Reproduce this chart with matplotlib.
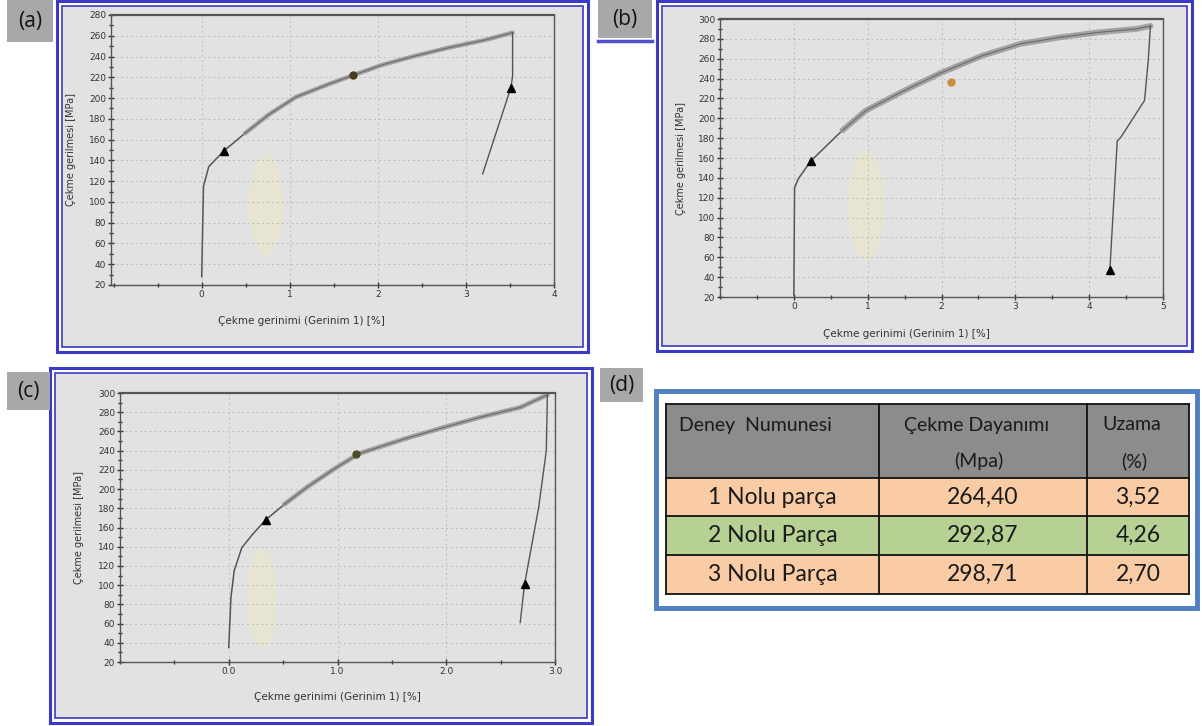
import matplotlib
matplotlib.use("Agg")
import matplotlib.pyplot as plt
from matplotlib.patches import Rectangle, Ellipse
from matplotlib.ticker import MultipleLocator

W, H = 1202, 726

# --- (a) 1 Nolu parca: stress-strain readings ---
a_load_x = [0.0, 0.02, 0.08, 0.25, 0.49, 0.76, 1.07, 1.46, 1.72, 2.05, 2.44, 2.83, 3.22, 3.53]
a_load_y = [28, 115, 134, 149, 166, 184, 201, 214, 222, 232, 241, 249, 256, 263]
a_unload_x = [3.53, 3.53, 3.51, 3.19]
a_unload_y = [263, 221, 210, 127]
a_tri_x = [0.25, 3.51]
a_tri_y = [149, 210]
a_dot = (1.72, 222)

# --- (b) 2 Nolu parca ---
b_load_x = [0.0, 0.01, 0.06, 0.23, 0.66, 0.98, 1.5, 2.0, 2.55, 3.07, 3.6, 4.12, 4.64, 4.83]
b_load_y = [22, 130, 139, 157, 188, 208, 228, 246, 263, 275, 281.5, 286.5, 290, 293]
b_unload_x = [4.83, 4.80, 4.75, 4.43, 4.38, 4.28]
b_unload_y = [293, 258, 218, 181, 177, 47]
b_tri_x = [0.23, 4.28]
b_tri_y = [157, 47]
b_dot = (2.13, 237)

# --- (c) 3 Nolu parca ---
c_load_x = [0.0, 0.02, 0.05, 0.12, 0.22, 0.34, 0.51, 0.72, 0.97, 1.2, 1.61, 1.97, 2.32, 2.68, 2.89, 2.93]
c_load_y = [35, 87, 115, 139, 153, 168, 184, 202, 221, 237, 252, 264, 275, 285, 296, 298]
c_unload_x = [2.93, 2.92, 2.85, 2.72, 2.68]
c_unload_y = [298, 240, 181, 101, 61]
c_tri_x = [0.34, 2.72]
c_tri_y = [168, 101]
c_dot = (1.17, 237)

# --- (d) table ---
col_headers = [["Deney  Numunesi"], ["Çekme Dayanımı", "(Mpa)"], ["Uzama", "(%)"]]
samples = ["1 Nolu parça", "2 Nolu Parça", "3 Nolu Parça"]
strength = [264.40, 292.87, 298.71]
elongation = [3.52, 4.26, 2.70]
row_colors = ["#f9cca6", "#b6d193", "#f9cca6"]

XLABEL = "Çekme gerinimi (Gerinim 1) [%]"
YLABEL = "Çekme gerilmesi [MPa]"
BLUE = "#3a3ac4"


def rect(l, t, r, b):
    return [l / W, 1 - b / H, (r - l) / W, (b - t) / H]


fig = plt.figure(figsize=(W / 100, H / 100), dpi=100)
bg = fig.add_axes([0, 0, 1, 1])
bg.set_xlim(0, W)
bg.set_ylim(H, 0)
bg.axis("off")


def panel_frame(x0, y0, x1, y1):
    bg.add_patch(Rectangle((x0, y0), x1 - x0, y1 - y0, fc="white", ec=BLUE, lw=2.2))
    bg.add_patch(Rectangle((x0 + 5, y0 + 5), x1 - x0 - 10, y1 - y0 - 10,
                           fc="#e2e2e2", ec=BLUE, lw=1.2))


def tag(x0, y0, x1, y1, text):
    bg.add_patch(Rectangle((x0, y0), x1 - x0, y1 - y0, fc="#a8a8a8", ec="none"))
    bg.text((x0 + x1) / 2, (y0 + y1) / 2, text, ha="center", va="center",
            fontsize=15, family="Open Sans", color="#111")


panel_frame(57, 1, 588, 352)
panel_frame(657, 1, 1192, 351)
panel_frame(50, 368, 592, 723)
tag(7, 0, 53, 42, "(a)")
tag(598, 0, 652, 38, "(b)")
bg.plot([598, 652], [41, 41], color="#5050c8", lw=2.5)
tag(7, 372, 50, 410, "(c)")
tag(600, 368, 643, 402, "(d)")

# faint stains on the scanned sheets
for cx, cy, w, h in [(266, 205, 34, 100), (866, 205, 36, 110), (262, 598, 30, 100)]:
    bg.add_patch(Ellipse((cx, cy), w, h, fc="#e9e6cf", ec="none", alpha=0.8))


def stress_plot(box, xlim, ylim, xticks, xfmt, load_x, load_y, un_x, un_y,
                tri_x, tri_y, dot, dot_color, band_from, band_lw, xl_x, xl_y, yl_x):
    ax = fig.add_axes(rect(*box))
    ax.set_facecolor("none")
    ax.set_xlim(*xlim)
    ax.set_ylim(*ylim)
    ax.set_xticks(xticks)
    ax.set_xticklabels([xfmt.format(v) for v in xticks])
    ax.xaxis.set_minor_locator(MultipleLocator(0.5))
    ax.set_yticks(range(20, int(ylim[1]) + 1, 20))
    ax.yaxis.set_minor_locator(MultipleLocator(10))
    ax.tick_params(which="major", labelsize=6.5, direction="inout", length=5,
                   width=1, colors="#333", pad=1)
    ax.tick_params(which="minor", direction="inout", length=3, width=1, colors="#333")
    for s in ax.spines.values():
        s.set_color("#555")
        s.set_linewidth(1.0)
    ax.spines["top"].set_linewidth(1.6)
    ax.grid(True, which="major", color="#bdbdbd", ls=(0, (2, 3)), lw=0.7)
    ax.set_axisbelow(True)

    ax.plot(load_x, load_y, color="#555", lw=1.1)
    ax.plot(load_x[band_from:], load_y[band_from:], color="#9c9c9c", lw=band_lw,
            solid_capstyle="round", alpha=0.9)
    ax.plot(load_x[band_from:], load_y[band_from:], color="#6a6a6a", lw=0.7)
    ax.plot(un_x, un_y, color="#555", lw=1.0)
    ax.plot(tri_x, tri_y, ls="none", marker="^", color="black", ms=5.5)
    ax.plot([dot[0]], [dot[1]], ls="none", marker="o", color=dot_color, ms=5)

    ax.set_xlabel(XLABEL, fontsize=7.5, color="#333")
    ax.set_ylabel(YLABEL, fontsize=7, color="#333")
    ax.xaxis.set_label_coords(xl_x, xl_y)
    ax.yaxis.set_label_coords(yl_x, 0.5)
    return ax


stress_plot((111, 15, 554, 285), (-1.03, 4), (20, 280), [0, 1, 2, 3, 4], "{:d}",
            a_load_x, a_load_y, a_unload_x, a_unload_y, a_tri_x, a_tri_y,
            a_dot, "#4a3a1c", 4, 3.2, 0.43, -0.115, -0.079)
stress_plot((720, 19, 1163, 297), (-1, 5), (22, 300), [0, 1, 2, 3, 4, 5], "{:d}",
            b_load_x, b_load_y, b_unload_x, b_unload_y, b_tri_x, b_tri_y,
            b_dot, "#c8903a", 4, 4.2, 0.42, -0.115, -0.077)
stress_plot((120, 393, 555, 662), (-1, 3), (20, 300), [0.0, 1.0, 2.0, 3.0], "{:.1f}",
            c_load_x, c_load_y, c_unload_x, c_unload_y, c_tri_x, c_tri_y,
            c_dot, "#4e4e22", 6, 3.4, 0.5, -0.11, -0.083)

# --- (d) table drawn on background axes ---
bg.add_patch(Rectangle((656, 391), 541, 217, fc="white", ec="#4f7fc0", lw=3.5))
col_x = [666, 879, 1087, 1189]
row_y = [404, 478, 516, 555, 594]
bg.add_patch(Rectangle((col_x[0], row_y[0]), col_x[-1] - col_x[0], row_y[1] - row_y[0],
                       fc="#8c8c8c", ec="none"))
for i, c in enumerate(row_colors):
    bg.add_patch(Rectangle((col_x[0], row_y[i + 1]), col_x[-1] - col_x[0],
                           row_y[i + 2] - row_y[i + 1], fc=c, ec="none"))
for y in row_y:
    bg.plot([col_x[0], col_x[-1]], [y, y], color="#111", lw=1.3)
for x in col_x:
    bg.plot([x, x], [row_y[0], row_y[-1]], color="#111", lw=1.3)

tfont = "Lato"
bg.text(679, 425, col_headers[0][0], fontsize=14, family=tfont, va="center", color="#1a1a1a")
for j in (1, 2):
    cx = (col_x[j] + col_x[j + 1]) / 2
    bg.text(cx - 6, 425, col_headers[j][0], fontsize=14, family=tfont, ha="center",
            va="center", color="#1a1a1a")
    bg.text(cx - 4, 461, col_headers[j][1], fontsize=14,
            family=tfont, ha="center", va="center", color="#1a1a1a")
for i in range(3):
    cy = (row_y[i + 1] + row_y[i + 2]) / 2
    cells = [samples[i], f"{strength[i]:.2f}".replace(".", ","),
             f"{elongation[i]:.2f}".replace(".", ",")]
    for j, txt in enumerate(cells):
        cx = (col_x[j] + col_x[j + 1]) / 2
        bg.text(cx, cy, txt, fontsize=16.5, family=tfont, ha="center", va="center",
                color="#1a1a1a")

fig.savefig("out.png", dpi=100, facecolor="white")
